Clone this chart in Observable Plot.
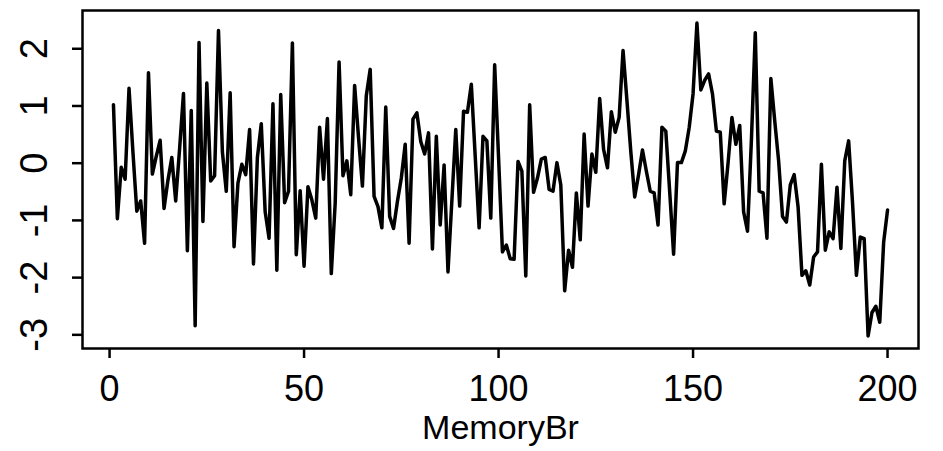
<!DOCTYPE html>
<html>
<head>
<meta charset="utf-8">
<script src="https://cdn.jsdelivr.net/npm/d3@7"></script>
<script src="https://cdn.jsdelivr.net/npm/@observablehq/plot@0.6"></script>
<style>
  html, body { margin: 0; padding: 0; background: #fff; }
  svg { display: block; }
</style>
</head>
<body>
<div id="chart"></div>
<script>
const xLabel = "MemoryBr";
const xTicks = [0, 50, 100, 150, 200];
const yTicks = [-3, -2, -1, 0, 1, 2];
const values = [
  1.02, -0.97, -0.07, -0.28, 1.31, 0.2, -0.84, -0.66, -1.40, 1.58,
  -0.19, 0.12, 0.40, -0.79, -0.3, 0.10, -0.66, 0.25, 1.22, -1.53,
  0.92, -2.84, 2.11, -1.02, 1.40, -0.31, -0.22, 2.32, 0.2, -0.49,
  1.23, -1.46, -0.35, -0.02, -0.20, 0.59, -1.76, 0.1, 0.69, -0.85,
  -1.31, 1.04, -1.87, 1.2, -0.69, -0.49, 2.10, -1.60, -0.48, -1.80,
  -0.41, -0.64, -0.96, 0.63, -0.28, 0.78, -1.93, -0.7, 1.77, -0.22,
  0.04, -0.55, 1.36, 0.45, -0.40, 1.18, 1.64, -0.58, -0.76, -1.13,
  0.98, -0.93, -1.14, -0.67, -0.26, 0.33, -1.40, 0.77, 0.88, 0.38,
  0.16, 0.53, -1.50, 0.47, -1.08, -0.03, -1.90, -0.65, 0.59, -0.75,
  0.91, 0.89, 1.38, 0.12, -1.13, 0.47, 0.39, -0.96, 1.72, 0.1,
  -1.55, -1.43, -1.67, -1.68, 0.03, -0.14, -1.97, 1.02, -0.51, -0.26,
  0.07, 0.10, -0.46, -0.49, 0.01, -0.38, -2.23, -1.52, -1.82, -0.52,
  -1.34, 0.51, -0.75, 0.16, -0.16, 1.13, 0.24, -0.08, 0.90, 0.54,
  0.80, 1.97, 1.1, 0.2, -0.59, -0.2, 0.23, -0.14, -0.49, -0.52,
  -1.08, 0.63, 0.56, -0.5, -1.59, 0.01, 0.01, 0.21, 0.62, 1.21,
  2.45, 1.28, 1.45, 1.56, 1.21, 0.56, 0.54, -0.71, 0.0, 0.80,
  0.33, 0.66, -0.85, -1.19, 0.4, 2.28, -0.49, -0.52, -1.31, 1.48,
  0.74, 0.04, -0.93, -1.03, -0.38, -0.20, -0.76, -1.96, -1.88, -2.13,
  -1.64, -1.55, -0.02, -1.52, -1.20, -1.32, -0.42, -1.49, 0.04, 0.39,
  -0.69, -1.96, -1.29, -1.32, -3.02, -2.61, -2.50, -2.78, -1.38, -0.82
];

const data = values.map((v, i) => ({t: i + 1, v}));
const n = values.length;
const xPad = (n - 1) * 0.04;
const yMin = d3.min(values), yMax = d3.max(values);
const yPad = (yMax - yMin) * 0.04;

const chart = Plot.plot({
  width: 943,
  height: 451,
  marginLeft: 82,
  marginRight: 25,
  marginTop: 10,
  marginBottom: 103,
  style: {fontFamily: "'Liberation Sans', Arial, sans-serif", background: "#fff", color: "#000"},
  x: {domain: [1 - xPad, n + xPad]},
  y: {domain: [yMin - yPad, yMax + yPad]},
  marks: [
    Plot.line(data, {x: "t", y: "v", stroke: "#000", strokeWidth: 3.5, strokeLinejoin: "round"}),
    Plot.frame({stroke: "#000", strokeWidth: 2.5}),
    Plot.axisX(xTicks, {tickSize: 10, tickFormat: () => "", strokeWidth: 2.5, label: null}),
    Plot.axisY(yTicks, {tickSize: 10, tickFormat: () => "", strokeWidth: 2.5, label: null}),
    Plot.text(xTicks, {x: d => d, frameAnchor: "bottom", dy: 41, text: d => String(d), fontSize: 36, lineAnchor: "middle", textAnchor: "middle", fill: "#000"}),
    Plot.text(yTicks, {y: d => d, frameAnchor: "left", dx: -48, text: d => String(d), fontSize: 38, rotate: -90, lineAnchor: "middle", textAnchor: "middle", fill: "#000"}),
    Plot.text([xLabel], {frameAnchor: "bottom", dy: 80, text: d => d, fontSize: 34, lineAnchor: "middle", textAnchor: "middle", fill: "#000"})
  ]
});
document.getElementById("chart").appendChild(chart);
</script>
</body>
</html>
